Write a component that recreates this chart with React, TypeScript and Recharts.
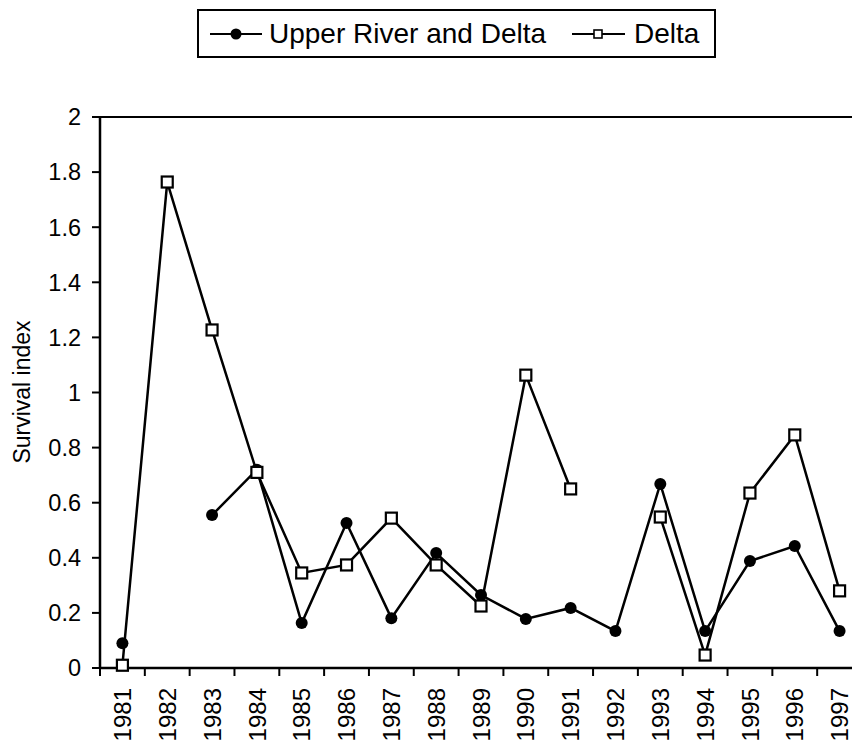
import { Line, LineChart, ReferenceLine, XAxis, YAxis } from 'recharts';

const YEARS = [1981, 1982, 1983, 1984, 1985, 1986, 1987, 1988, 1989, 1990, 1991, 1992, 1993, 1994, 1995, 1996, 1997];
const UPPER_RIVER = [0.09, null, 0.555, 0.72, 0.163, 0.526, 0.181, 0.417, 0.265, 0.178, 0.218, 0.134, 0.668, 0.134, 0.388, 0.443, 0.134];
const DELTA = [0.01, 1.764, 1.227, 0.71, 0.345, 0.374, 0.544, 0.374, 0.225, 1.063, 0.65, null, 0.548, 0.047, 0.635, 0.846, 0.28];
const Y_TICKS = [0, 0.2, 0.4, 0.6, 0.8, 1, 1.2, 1.4, 1.6, 1.8, 2];

const data = YEARS.map((year, i) => ({ year, upper: UPPER_RIVER[i], delta: DELTA[i] }));
// ticks sit between years, like the Excel original
const X_TICKS = [...YEARS.map((y) => y - 0.5), YEARS[YEARS.length - 1] + 0.5];

const FONT = '"Liberation Sans", Arial, sans-serif';
const WIDTH = 852;
const HEIGHT = 740;
// the original scan is cropped on the right, so the plot runs a bit past the page
const CHART_W = 862;
const MARGIN = { top: 117, right: 0, bottom: 0, left: 0 };
const Y_AXIS_W = 100;
const PLOT_W = CHART_W - MARGIN.left - MARGIN.right - Y_AXIS_W;
const HALF_STEP = PLOT_W / YEARS.length / 2;

const YearTick = (props: any) => {
  const { x, y, payload } = props;
  const year = payload.value + 0.5;
  if (!YEARS.includes(year)) return null;
  const cx = x + HALF_STEP;
  const ty = y + 10;
  return (
    <text
      x={cx}
      y={ty}
      transform={`rotate(-90 ${cx} ${ty})`}
      textAnchor="end"
      dy="0.36em"
      fontSize={24}
      fontFamily={FONT}
      fill="#000"
    >
      {year}
    </text>
  );
};

const CircleDot = (props: any) => {
  const { cx, cy, value } = props;
  if (value == null || cx == null || cy == null) return null;
  return <circle cx={cx} cy={cy} r={6} fill="#000" />;
};

const SquareDot = (props: any) => {
  const { cx, cy, value } = props;
  if (value == null || cx == null || cy == null) return null;
  return <rect x={cx - 5.5} y={cy - 5.5} width={11} height={11} fill="#fff" stroke="#000" strokeWidth={2.2} />;
};

const LegendBox = () => (
  <div
    style={{
      position: 'absolute',
      left: 197,
      top: 9,
      width: 519,
      height: 49,
      border: '2px solid #000',
      boxSizing: 'border-box',
      display: 'flex',
      alignItems: 'center',
      fontFamily: FONT,
      fontSize: 28,
      color: '#000',
      paddingLeft: 11,
      whiteSpace: 'nowrap',
    }}
  >
    <svg width={52} height={20}>
      <line x1={0} y1={10} x2={52} y2={10} stroke="#000" strokeWidth={2.2} />
      <circle cx={26} cy={10} r={5.5} fill="#000" />
    </svg>
    <span style={{ marginLeft: 7 }}>Upper River and Delta</span>
    <svg width={53} height={20} style={{ marginLeft: 26 }}>
      <line x1={0} y1={10} x2={53} y2={10} stroke="#000" strokeWidth={2.2} />
      <rect x={22} y={6} width={8} height={8} fill="#fff" stroke="#000" strokeWidth={1.6} />
    </svg>
    <span style={{ marginLeft: 9 }}>Delta</span>
  </div>
);

const YLabel = () => (
  <text
    x={22}
    y={392}
    transform="rotate(-90 22 392)"
    textAnchor="middle"
    dy="0.36em"
    fontSize={23}
    fontFamily={FONT}
    fill="#000"
  >
    Survival index
  </text>
);

export default function App() {
  return (
    <div style={{ position: 'relative', width: WIDTH, height: HEIGHT, background: '#fff', overflow: 'hidden' }}>
      <style>{'body{margin:0}'}</style>
      <LineChart width={CHART_W} height={HEIGHT} data={data} margin={MARGIN}>
        <XAxis
          dataKey="year"
          type="number"
          domain={[X_TICKS[0], X_TICKS[X_TICKS.length - 1]]}
          ticks={X_TICKS}
          interval={0}
          height={72}
          axisLine={{ stroke: '#000', strokeWidth: 2.5 }}
          tickLine={{ stroke: '#000', strokeWidth: 2 }}
          tickSize={8}
          tick={<YearTick />}
        />
        <YAxis
          domain={[0, 2]}
          ticks={Y_TICKS}
          interval={0}
          width={Y_AXIS_W}
          axisLine={{ stroke: '#000', strokeWidth: 2.5 }}
          tickLine={{ stroke: '#000', strokeWidth: 2 }}
          tickSize={8}
          tickMargin={11}
          tick={{ fill: '#000', fontSize: 23.5, fontFamily: FONT }}
          label={<YLabel />}
        />
        <ReferenceLine y={2} stroke="#000" strokeWidth={2} />
        <Line
          dataKey="upper"
          name="Upper River and Delta"
          stroke="#000"
          strokeWidth={2.5}
          dot={<CircleDot />}
          activeDot={false}
          isAnimationActive={false}
        />
        <Line
          dataKey="delta"
          name="Delta"
          stroke="#000"
          strokeWidth={2.5}
          dot={<SquareDot />}
          activeDot={false}
          isAnimationActive={false}
        />
      </LineChart>
      <LegendBox />
    </div>
  );
}
